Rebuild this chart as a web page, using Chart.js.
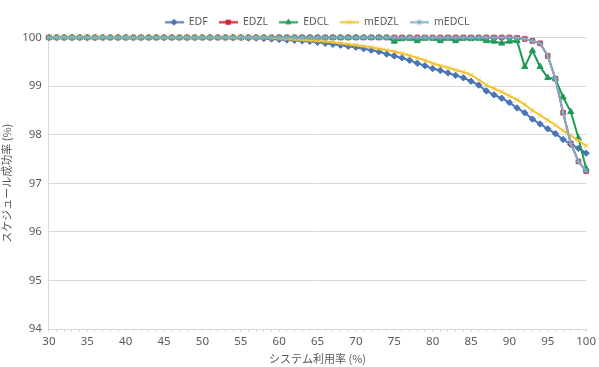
<!DOCTYPE html>
<html lang="ja">
<head>
<meta charset="UTF-8">
<title>スケジュール成功率</title>
<script src="https://cdn.jsdelivr.net/npm/chart.js"></script>
<style>
  html, body { margin: 0; padding: 0; background: #fff; }
  #wrap { width: 599px; height: 367px; position: relative; }
</style>
</head>
<body>
<div id="wrap"><canvas id="chart"></canvas></div>
<script>
// system utilisation (%)
const utilization = [30, 31, 32, 33, 34, 35, 36, 37, 38, 39, 40, 41, 42, 43, 44, 45, 46, 47, 48, 49,
  50, 51, 52, 53, 54, 55, 56, 57, 58, 59, 60, 61, 62, 63, 64, 65, 66, 67, 68, 69,
  70, 71, 72, 73, 74, 75, 76, 77, 78, 79, 80, 81, 82, 83, 84, 85, 86, 87, 88, 89,
  90, 91, 92, 93, 94, 95, 96, 97, 98, 99, 100];

// schedule success rate (%) per series, index matches utilization
const edf = [100, 100, 100, 100, 100, 100, 100, 100, 100, 100,
  100, 100, 100, 100, 100, 100, 100, 100, 100, 100,
  100, 100, 100, 100, 100, 100, 99.99, 99.99, 99.98, 99.97,
  99.96, 99.95, 99.94, 99.93, 99.92, 99.90, 99.88, 99.86, 99.84, 99.82,
  99.80, 99.77, 99.74, 99.71, 99.66, 99.62, 99.58, 99.53, 99.47, 99.42,
  99.36, 99.32, 99.27, 99.22, 99.17, 99.10, 99.02, 98.90, 98.82, 98.75,
  98.66, 98.55, 98.45, 98.32, 98.22, 98.12, 98.02, 97.90, 97.80, 97.72, 97.62];

const edzl = [100, 100, 100, 100, 100, 100, 100, 100, 100, 100,
  100, 100, 100, 100, 100, 100, 100, 100, 100, 100,
  100, 100, 100, 100, 100, 100, 100, 100, 100, 100,
  100, 100, 100, 100, 100, 100, 100, 100, 100, 100,
  100, 100, 100, 100, 100, 100, 100, 100, 100, 100,
  100, 100, 100, 100, 100, 100, 100, 100, 100, 100,
  100, 99.99, 99.97, 99.93, 99.88, 99.62, 99.15, 98.45, 97.82, 97.45, 97.25];

const edcl = [100, 100, 100, 100, 100, 100, 100, 100, 100, 100,
  100, 100, 100, 100, 100, 100, 100, 100, 100, 100,
  100, 100, 100, 100, 100, 100, 100, 100, 100, 100,
  100, 100, 100, 100, 100, 100, 100, 100, 100, 100,
  100, 100, 100, 100, 100, 99.92, 99.97, 99.98, 99.93, 99.98,
  99.98, 99.93, 99.98, 99.93, 99.98, 99.97, 99.98, 99.93, 99.92, 99.88,
  99.92, 99.93, 99.40, 99.73, 99.40, 99.17, 99.15, 98.77, 98.47, 97.93, 97.30];

const medzl = [100, 100, 100, 100, 100, 100, 100, 100, 100, 100,
  100, 100, 100, 100, 100, 100, 100, 100, 100, 100,
  100, 100, 100, 100, 100, 100, 100, 100, 100, 99.99,
  99.98, 99.97, 99.96, 99.95, 99.94, 99.93, 99.92, 99.90, 99.88, 99.86,
  99.84, 99.82, 99.80, 99.77, 99.74, 99.71, 99.67, 99.63, 99.58, 99.53,
  99.47, 99.42, 99.38, 99.33, 99.29, 99.23, 99.13, 99.02, 98.95, 98.88,
  98.80, 98.72, 98.62, 98.50, 98.40, 98.30, 98.20, 98.08, 97.98, 97.88, 97.77];

const medcl = [100, 100, 100, 100, 100, 100, 100, 100, 100, 100,
  100, 100, 100, 100, 100, 100, 100, 100, 100, 100,
  100, 100, 100, 100, 100, 100, 100, 100, 100, 100,
  100, 100, 100, 100, 100, 100, 100, 100, 100, 100,
  100, 100, 100, 100, 100, 100, 100, 100, 100, 100,
  100, 100, 100, 100, 100, 100, 100, 100, 100, 100,
  100, 99.99, 99.97, 99.93, 99.88, 99.62, 99.15, 98.45, 97.82, 97.45, 97.25];

const seriesNames = ['EDF', 'EDZL', 'EDCL', 'mEDZL', 'mEDCL'];
const yTicks = [94, 95, 96, 97, 98, 99, 100];

const styles = [
  { color: '#4a74b4', marker: 'rectRot', radius: 3.2 },
  { color: '#e0101e', fill: '#c8283c', marker: 'rect', radius: 3.2 },
  { color: '#1e9a55', marker: 'triangle', radius: 3.5 },
  { color: '#f2c22e', marker: 'crossRot', radius: 3.2 },
  { color: '#7bb0cc', marker: 'star', radius: 3.2 }
];

// small canvas: line with the marker in the middle, used as the legend symbol
function legendSymbol(st) {
  const c = document.createElement('canvas');
  c.width = 19; c.height = 9;
  const g = c.getContext('2d');
  g.strokeStyle = st.color;
  g.lineWidth = 2;
  g.beginPath(); g.moveTo(0, 4.5); g.lineTo(19, 4.5); g.stroke();
  g.fillStyle = st.fill || st.color;
  g.lineWidth = 1;
  Chart.helpers.drawPoint(g, {
    pointStyle: st.marker, radius: 3, rotation: 0, borderWidth: 1
  }, 9.5, 4.5);
  return c;
}

// the original legend sits a bit right of centre
const legendShift = {
  id: 'legendShift',
  afterLayout(chart) {
    if (chart.legend) {
      chart.legend.left += 16;
      chart.legend.right += 16;
    }
  }
};

const allData = [edf, edzl, edcl, medzl, medcl];

const datasets = allData.map((vals, i) => ({
  label: seriesNames[i],
  data: vals,
  borderColor: styles[i].color,
  backgroundColor: styles[i].fill || styles[i].color,
  pointBorderColor: styles[i].color,
  pointStyle: styles[i].marker,
  pointRadius: styles[i].radius,
  pointBorderWidth: 1,
  borderWidth: 2,
  tension: 0,
  clip: false,
  order: 4 - i // later series drawn on top, like the original
}));

new Chart(document.getElementById('chart'), {
  type: 'line',
  data: { labels: utilization, datasets: datasets },
  plugins: [legendShift],
  options: {
    responsive: true,
    maintainAspectRatio: false,
    animation: false,
    layout: { padding: { left: 0, right: -3, top: 6, bottom: 2 } },
    plugins: {
      tooltip: { enabled: false },
      legend: {
        position: 'top',
        labels: {
          usePointStyle: true,
          pointStyleWidth: 19,
          boxHeight: 9,
          padding: 11,
          color: '#595959',
          font: { family: 'Noto Sans', size: 10.5 },
          sort: (a, b) => a.datasetIndex - b.datasetIndex,
          generateLabels: (chart) => {
            const items = Chart.defaults.plugins.legend.labels.generateLabels(chart);
            items.forEach(it => { it.pointStyle = legendSymbol(styles[it.datasetIndex]); });
            return items;
          }
        }
      }
    },
    scales: {
      x: {
        type: 'category',
        offset: false,
        border: { color: '#d9d9d9' },
        grid: { drawOnChartArea: false, drawTicks: true, tickLength: 3, color: '#d9d9d9' },
        ticks: {
          autoSkip: false,
          maxRotation: 0,
          color: '#595959',
          padding: 3,
          font: { family: 'Noto Sans', size: 11.5 },
          callback: (v, i) => utilization[i] % 5 === 0 ? utilization[i] : ''
        },
        title: {
          display: true,
          text: 'システム利用率 (%)',
          color: '#595959',
          padding: { top: 0, bottom: 0 },
          font: { family: 'Noto Sans CJK JP', size: 11 }
        }
      },
      y: {
        min: yTicks[0],
        max: yTicks[yTicks.length - 1],
        border: { color: '#d9d9d9' },
        grid: { color: '#d9d9d9', drawTicks: false },
        ticks: {
          stepSize: 1,
          padding: 7,
          color: '#595959',
          font: { family: 'Noto Sans', size: 11.5 }
        },
        title: {
          display: true,
          text: 'スケジュール成功率 (%)',
          color: '#595959',
          padding: { top: 0, bottom: 2 },
          font: { family: 'Noto Sans CJK JP', size: 11 }
        }
      }
    }
  }
});
</script>
</body>
</html>
